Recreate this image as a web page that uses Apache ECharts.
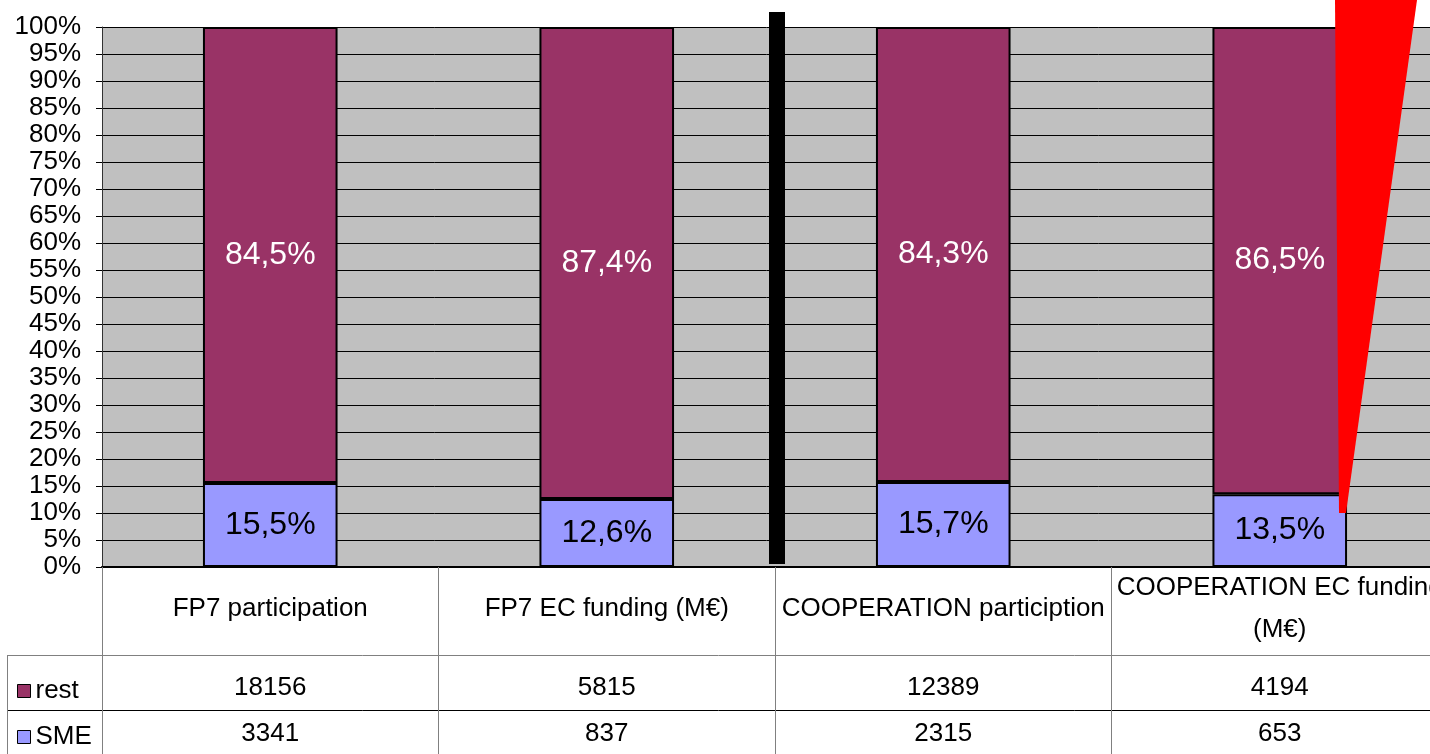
<!DOCTYPE html>
<html>
<head>
<meta charset="utf-8">
<script src="https://cdn.jsdelivr.net/npm/echarts@6/dist/echarts.min.js"></script>
<style>
html, body { margin: 0; padding: 0; background: #fff; }
#chart { width: 1430px; height: 754px; }
</style>
</head>
<body>
<div id="chart"></div>
<script>
var categories = ['FP7 participation', 'FP7 EC funding (M€)', 'COOPERATION particiption', 'COOPERATION EC funding\n(M€)'];
var restCounts = [18156, 5815, 12389, 4194];
var smeCounts = [3341, 837, 2315, 653];
var yTicks = [0, 5, 10, 15, 20, 25, 30, 35, 40, 45, 50, 55, 60, 65, 70, 75, 80, 85, 90, 95, 100];

// 100% stack: share of each category
var restShare = restCounts.map(function(v, i) { return v / (v + smeCounts[i]) * 100; });
var smeShare = smeCounts.map(function(v, i) { return v / (v + restCounts[i]) * 100; });

function pct(v) {
	return v.toFixed(1).replace('.', ',') + '%';
}

var font = 'Liberation Sans, Arial, sans-serif';
var chart = echarts.init(document.getElementById('chart'));

// extra bottom axes used as the rows of the data table
function tableRow(values, margin) {
	return {
		type: 'category',
		data: categories,
		position: 'bottom',
		axisLine: { show: false },
		axisTick: { show: false },
		axisLabel: {
			interval: 0,
			margin: margin,
			verticalAlign: 'middle',
			fontSize: 26,
			fontFamily: font,
			color: '#000',
			formatter: function(v, i) { return String(values[i]); }
		}
	};
}

// one legend per table row
function rowLegend(name, top) {
	return {
		data: [name],
		left: 12,
		top: top,
		itemWidth: 13,
		itemHeight: 13,
		itemGap: 10,
		icon: 'rect',
		itemStyle: { borderColor: '#000', borderWidth: 1 },
		textStyle: { fontSize: 26, fontFamily: font, color: '#000' }
	};
}

var option = {
	backgroundColor: '#fff',
	animation: false,
	grid: {
		left: 102,
		top: 27,
		right: -18,
		bottom: 187,
		show: true,
		backgroundColor: '#c0c0c0',
		borderWidth: 0,
		outerBoundsMode: 'none'
	},
	legend: [rowLegend('rest', 673), rowLegend('SME', 719)],
	xAxis: [{
		type: 'category',
		data: categories,
		axisLine: { lineStyle: { color: '#000', width: 2 } },
		axisTick: { show: true, interval: 0, length: 190, lineStyle: { color: '#808080', width: 1 } },
		axisLabel: {
			interval: 0,
			margin: 42,
			verticalAlign: 'middle',
			lineHeight: 42,
			fontSize: 26,
			fontFamily: font,
			color: '#000'
		}
	}, tableRow(restCounts, 121), tableRow(smeCounts, 167)],
	yAxis: {
		type: 'value',
		min: 0,
		max: 100,
		interval: 5,
		axisLine: { show: true, lineStyle: { color: '#333', width: 1 } },
		axisTick: { show: true, length: 6, lineStyle: { color: '#000' } },
		splitLine: { lineStyle: { color: '#000', width: 1 } },
		axisLabel: {
			margin: 21,
			fontSize: 26,
			fontFamily: font,
			color: '#000',
			formatter: function(v) { return yTicks.indexOf(v) >= 0 ? v + '%' : ''; }
		}
	},
	series: [{
		name: 'SME',
		type: 'bar',
		stack: 'all',
		barWidth: '40%',
		data: smeShare,
		itemStyle: { color: '#9999ff', borderColor: '#000', borderWidth: 2 },
		label: {
			show: true,
			position: 'inside',
			fontSize: 32,
			fontFamily: font,
			color: '#000',
			formatter: function(p) { return pct(p.value); }
		}
	}, {
		name: 'rest',
		type: 'bar',
		stack: 'all',
		barWidth: '40%',
		data: restShare,
		itemStyle: { color: '#993366', borderColor: '#000', borderWidth: 2 },
		label: {
			show: true,
			position: 'inside',
			fontSize: 32,
			fontFamily: font,
			color: '#fff',
			formatter: function(p) { return pct(p.value); }
		}
	}],
	graphic: [
		// table borders
		{ type: 'line', shape: { x1: 7, y1: 655.5, x2: 1430, y2: 655.5 }, style: { stroke: '#808080', lineWidth: 1 } },
		{ type: 'line', shape: { x1: 7, y1: 710.5, x2: 1430, y2: 710.5 }, style: { stroke: '#000', lineWidth: 1 } },
		{ type: 'line', shape: { x1: 7.5, y1: 655, x2: 7.5, y2: 754 }, style: { stroke: '#808080', lineWidth: 1 } },
		// separator bar
		{ type: 'rect', shape: { x: 769, y: 12, width: 16, height: 552 }, style: { fill: '#000' }, z: 100 },
		// red pointer
		{ type: 'polygon', shape: { points: [[1335, 0], [1417, 0], [1346, 513], [1339, 513]] }, style: { fill: '#ff0000' }, z: 100 }
	]
};

chart.setOption(option);
</script>
</body>
</html>
